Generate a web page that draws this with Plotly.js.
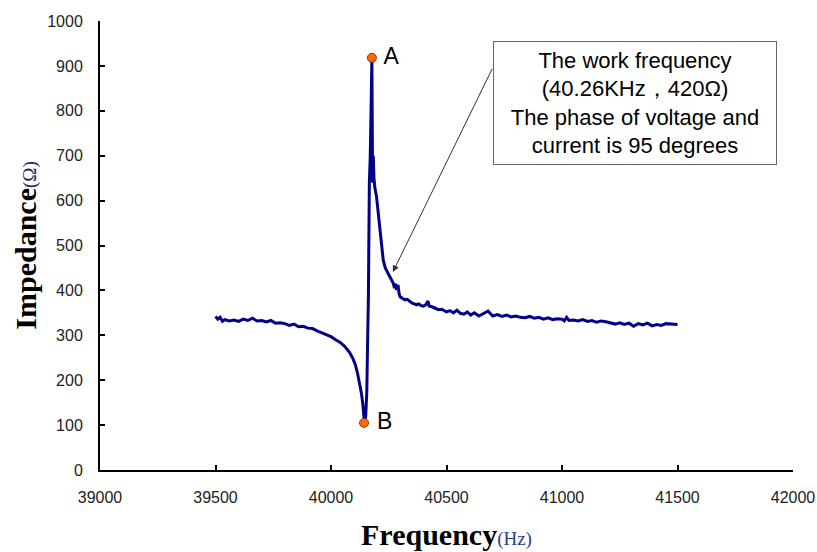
<!DOCTYPE html>
<html>
<head>
<meta charset="utf-8">
<script src="https://cdn.plot.ly/plotly-3.0.1.min.js"></script>
<style>html,body{margin:0;padding:0;background:#fff;}#chart{width:817px;height:552px;}</style>
</head>
<body>
<div id="chart"></div>
<script>
// Measured impedance curve (Hz, Ohm)
const freq = [39500,39510,39520,39530,39540,39560,39580,39600,39620,39640,39660,39680,39700,39720,39740,39760,39780,39800,39820,39840,39860,39880,39900,39920,39940,39960,39980,40000,40020,40040,40060,40080,40095,40105,40115,40125,40132,40138,40142,40145,40150,40155,40158,40162,40166,40170,40174,40177,40180,40183,40186,40190,40197,40205,40212,40220,40226,40235,40245,40255,40263,40270,40275,40280,40284,40290,40295,40299,40310,40320,40330,40340,40350,40360,40370,40380,40390,40400,40410,40420,40425,40435,40450,40465,40480,40500,40515,40530,40545,40560,40575,40590,40605,40620,40640,40660,40680,40700,40720,40740,40760,40780,40800,40820,40840,40860,40880,40900,40920,40940,40960,40980,41000,41010,41020,41030,41050,41070,41090,41110,41130,41150,41170,41190,41210,41230,41250,41270,41290,41310,41330,41350,41370,41390,41410,41430,41450,41470,41490,41500];
const impedance = [342,336,340,331,335,332,334,331,336,333,338,332,333,330,333,327,328,326,322,325,319,320,316,315,310,306,301,297,290,284,275,262,248,235,215,192,170,145,120,105,118,175,270,390,640,700,820,915,640,700,650,628,609,570,535,495,468,450,440,432,425,415,405,415,401,412,392,386,382,379,380,375,372,370,368,370,366,365,368,376,365,364,360,357,358,352,355,350,356,349,347,352,345,350,343,348,354,343,346,342,345,341,343,340,339,342,338,340,336,339,335,337,336,332,340,333,334,332,335,331,333,329,332,330,328,325,328,324,327,320,326,323,327,321,324,322,326,325,324,324];
// Marked points
const pointFreq = [40177, 40143];
const pointImp = [918, 105];
const pointLabels = [" A", " B"];
// Axis ticks
const xTicks = [39000,39500,40000,40500,41000,41500,42000];
const yTicks = [0,100,200,300,400,500,600,700,800,900,1000];
// Annotation
const noteText = "The work frequency<br>(40.26KHz，420Ω)<br>The phase of voltage and<br>current is 95 degrees";
const arrowHead = [40268, 441];
const arrowTail = [40701, 897];
const boxCenter = [41316, 818];

const traces = [
  {x: freq, y: impedance, type: 'scatter', mode: 'lines',
   line: {color: '#00008b', width: 3}, hoverinfo: 'skip'},
  {x: pointFreq, y: pointImp, type: 'scatter', mode: 'markers+text',
   text: pointLabels, textposition: 'middle right',
   textfont: {family: 'Liberation Sans, Arial', size: 23, color: '#000'},
   marker: {color: '#ff6a00', size: 9, line: {color: '#7a3a10', width: 1}}}
];

const axisCommon = {
  showgrid: false, zeroline: false, showline: true,
  linecolor: '#000', linewidth: 2,
  ticks: 'inside', ticklen: 5, tickwidth: 2, tickcolor: '#000',
  tickfont: {family: 'Liberation Sans, Arial', size: 16, color: '#222'}
};

const layout = {
  width: 817, height: 552,
  margin: {l: 100, r: 24, t: 21, b: 82},
  paper_bgcolor: '#fff', plot_bgcolor: '#fff',
  showlegend: false,
  xaxis: Object.assign({}, axisCommon, {
    range: [39000, 42000], tickvals: xTicks, ticktext: xTicks.map(String),
    ticklabelstandoff: 12,
    title: {text: "<b>Frequency</b><span style='font-size:19px;color:#27408b'>(Hz)</span>",
            font: {family: 'Liberation Serif, Times New Roman', size: 30, color: '#000'},
            standoff: 19}
  }),
  yaxis: Object.assign({}, axisCommon, {
    range: [0, 1000], tickvals: yTicks, ticktext: yTicks.map(String),
    ticklabelstandoff: 12,
    title: {text: "<b>Impedance</b><span style='font-size:19px;color:#1a2a5a'>(Ω)</span>",
            font: {family: 'Liberation Serif, Times New Roman', size: 30, color: '#000'},
            standoff: 2}
  }),
  annotations: [
    {x: arrowHead[0], y: arrowHead[1], ax: arrowTail[0], ay: arrowTail[1],
     xref: 'x', yref: 'y', axref: 'x', ayref: 'y',
     text: '', showarrow: true, arrowhead: 2, arrowsize: 1.3, arrowwidth: 1, arrowcolor: '#333'},
    {x: boxCenter[0], y: boxCenter[1], xref: 'x', yref: 'y', showarrow: false,
     text: noteText, align: 'center',
     font: {family: 'Liberation Sans, Arial', size: 22, color: '#000'},
     bgcolor: '#fff', bordercolor: '#666', borderwidth: 1, borderpad: 2,
     width: 278, height: 118}
  ]
};

Plotly.newPlot('chart', traces, layout, {displayModeBar: false, staticPlot: true});
</script>
</body>
</html>
